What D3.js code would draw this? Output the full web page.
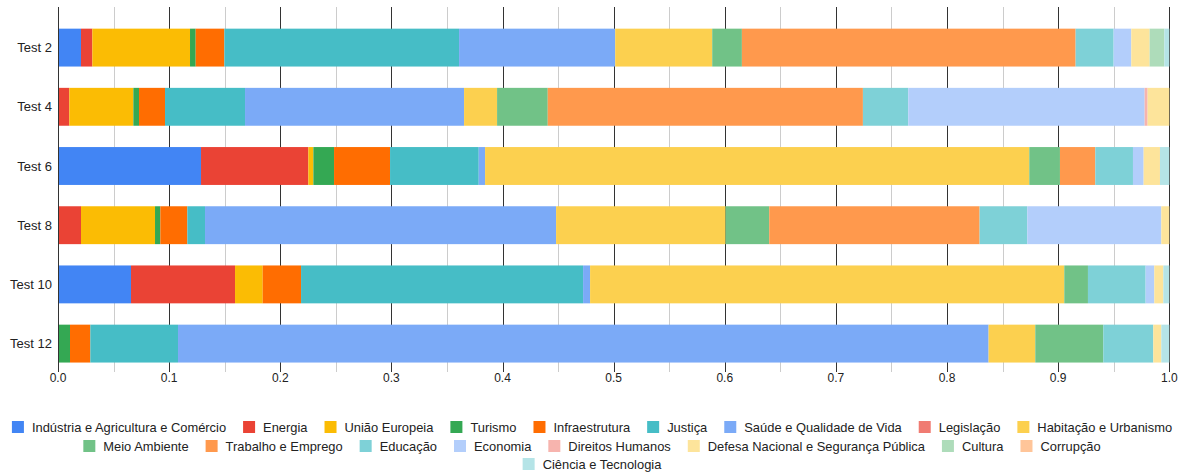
<!DOCTYPE html>
<html>
<head>
<meta charset="utf-8">
<script src="https://cdn.jsdelivr.net/npm/d3@7"></script>
<style>
  body { margin: 0; background: #fff; }
  text { font-family: "Liberation Sans", Arial, sans-serif; }
</style>
</head>
<body>
<div id="chart"></div>
<script>
// categories (rows)
const tests = ["Test 2", "Test 4", "Test 6", "Test 8", "Test 10", "Test 12"];

// series names and colours (stack order)
const series = ["Indústria e Agricultura e Comércio", "Energia", "União Europeia", "Turismo",
  "Infraestrutura", "Justiça", "Saúde e Qualidade de Vida", "Legislação", "Habitação e Urbanismo",
  "Meio Ambiente", "Trabalho e Emprego", "Educação", "Economia", "Direitos Humanos",
  "Defesa Nacional e Segurança Pública", "Cultura", "Corrupção", "Ciência e Tecnologia"];
const colors = ["#4285f4", "#ea4335", "#fbbc04", "#34a853", "#ff6d01", "#46bdc6", "#7baaf7",
  "#f07b72", "#fcd04f", "#71c287", "#ff994d", "#7ed1d7", "#b3cefb", "#f7b4ae", "#fde49b",
  "#aedcba", "#ffc599", "#b5e4e7"];

// values per test, in series order
const test2  = [0.0207, 0.0102, 0.0879, 0.0051, 0.0258, 0.2112, 0.1405, 0, 0.0873, 0.0267, 0.3003, 0.0342, 0.0159, 0, 0.0165, 0.0132, 0, 0.0045];
const test4  = [0, 0.0102, 0.0576, 0.0051, 0.0234, 0.0720, 0.1971, 0, 0.0297, 0.0456, 0.2836, 0.0408, 0.2127, 0.0027, 0.0195, 0, 0, 0];
const test6  = [0.1287, 0.0966, 0.0045, 0.0186, 0.0504, 0.0798, 0.0057, 0, 0.4897, 0.0276, 0.0318, 0.0339, 0.0096, 0, 0.0147, 0, 0, 0.0084];
const test8  = [0, 0.0207, 0.0666, 0.0048, 0.0243, 0.0159, 0.3159, 0, 0.1525, 0.0393, 0.1893, 0.0429, 0.1206, 0, 0.0072, 0, 0, 0];
const test10 = [0.0657, 0.0936, 0.0249, 0, 0.0345, 0.2538, 0.0063, 0, 0.4267, 0.0213, 0, 0.0519, 0.0078, 0, 0.0081, 0, 0, 0.0054];
const test12 = [0, 0, 0, 0.0108, 0.0183, 0.0789, 0.7294, 0, 0.0420, 0.0612, 0, 0.0450, 0, 0, 0.0072, 0, 0, 0.0072];

const xTicks = [0, 0.1, 0.2, 0.3, 0.4, 0.5, 0.6, 0.7, 0.8, 0.9, 1.0];

const rows = [test2, test4, test6, test8, test10, test12];
const data = tests.map((t, i) => {
  const o = {test: t};
  series.forEach((s, j) => o[s] = rows[i][j]);
  return o;
});

const width = 1187, height = 472;
const svg = d3.select("#chart").append("svg")
  .attr("width", width).attr("height", height);

const x = d3.scaleLinear().domain([0, 1]).range([58, 1169.3]);
const y = d3.scaleBand().domain(tests).range([18, 373.2])
  .paddingInner(0.36).paddingOuter(0.18);

const gridTop = 7, gridBottom = 372;

// minor gridlines
svg.append("g").selectAll("line")
  .data(d3.range(0.05, 1, 0.1))
  .enter().append("line")
  .attr("x1", d => Math.round(x(d)) + 0.5).attr("x2", d => Math.round(x(d)) + 0.5)
  .attr("y1", gridTop).attr("y2", gridBottom)
  .attr("stroke", "#cccccc");

// major gridlines
svg.append("g").selectAll("line")
  .data(xTicks)
  .enter().append("line")
  .attr("x1", d => Math.round(x(d)) + 0.5).attr("x2", d => Math.round(x(d)) + 0.5)
  .attr("y1", gridTop).attr("y2", gridBottom)
  .attr("stroke", "#333333");

// bars
const stack = d3.stack().keys(series);
const layers = stack(data);
svg.append("g").selectAll("g")
  .data(layers)
  .enter().append("g")
  .attr("fill", (d, i) => colors[i])
  .selectAll("rect")
  .data(d => d)
  .enter().append("rect")
  .attr("x", d => x(d[0]))
  .attr("width", d => Math.max(0, x(d[1]) - x(d[0])))
  .attr("y", d => y(d.data.test))
  .attr("height", y.bandwidth());

// left axis line on top
svg.append("line")
  .attr("x1", 58.5).attr("x2", 58.5).attr("y1", gridTop).attr("y2", gridBottom)
  .attr("stroke", "#333");

// y labels
svg.append("g").selectAll("text")
  .data(tests)
  .enter().append("text")
  .attr("x", 52)
  .attr("y", d => y(d) + y.bandwidth() / 2)
  .attr("dy", "0.35em")
  .attr("text-anchor", "end")
  .attr("font-size", 13)
  .attr("fill", "#222")
  .text(d => d);

// x tick labels
svg.append("g").selectAll("text")
  .data(xTicks)
  .enter().append("text")
  .attr("x", d => x(d))
  .attr("y", 378)
  .attr("dy", "0.35em")
  .attr("text-anchor", "middle")
  .attr("font-size", 12)
  .attr("fill", "#222")
  .text(d => d.toFixed(1));

// legend, centred rows
const legend = svg.append("g");
const items = series.map((s, i) => {
  const g = legend.append("g");
  g.append("rect").attr("width", 12).attr("height", 12).attr("y", -6).attr("fill", colors[i]);
  const t = g.append("text").attr("x", 20).attr("dy", "0.35em")
    .attr("font-size", 12.9)
    .attr("fill", "#222").text(s);
  return {g: g, w: 20 + t.node().getComputedTextLength()};
});
const maxW = 1166, gap = 17, rowY = [427, 446, 464];
let lines = [[]], lw = 0;
items.forEach(it => {
  const add = (lines[lines.length - 1].length ? gap : 0) + it.w;
  if (lw + add > maxW && lines[lines.length - 1].length) {
    lines.push([it]); lw = it.w;
  } else {
    lines[lines.length - 1].push(it); lw += add;
  }
});
lines.forEach((line, r) => {
  const total = d3.sum(line, d => d.w) + gap * (line.length - 1);
  let cx = 592 - total / 2;
  line.forEach(it => {
    it.g.attr("transform", "translate(" + cx + "," + rowY[r] + ")");
    cx += it.w + gap;
  });
});
</script>
</body>
</html>
